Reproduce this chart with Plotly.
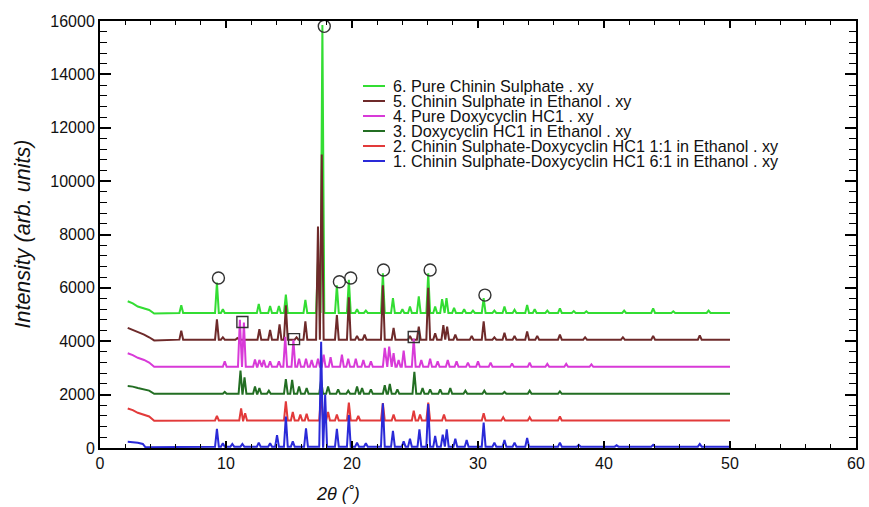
import plotly.graph_objects as go

# ---------------- data ----------------
# Series 6: Pure Chinin Sulphate (offset ~5000)
s6_start_x = [2.2, 2.6, 3.0, 3.4, 3.9, 4.3]
s6_start_y = [5500, 5420, 5300, 5230, 5170, 5040]
s6_peak_x = [6.45, 9.28, 9.75, 12.6, 13.5, 14.2, 14.75, 16.3, 17.3, 17.65, 18.8, 19.75,
             20.4, 21.1, 22.45, 23.25, 24.0, 24.6, 25.3, 26.05, 26.6, 27.15, 27.5, 28.1,
             28.9, 29.6, 30.45, 31.3, 32.1, 32.9, 33.9, 34.5, 35.5, 36.5, 37.6, 38.6,
             41.6, 43.9, 45.5, 48.3]
s6_peak_y = [5350, 6200, 5200, 5400, 5320, 5320, 5750, 5550, 7000, 15850, 6100, 6300,
             5200, 5150, 6550, 5620, 5200, 5300, 5680, 6550, 5300, 5580, 5620, 5250,
             5200, 5150, 5620, 5150, 5300, 5180, 5360, 5200, 5150, 5230, 5130, 5120,
             5150, 5230, 5120, 5150]
s6_base = 5060

# Series 5: Chinin Sulphate in Ethanol (offset ~4000)
s5_start_x = [2.2, 2.6, 3.0, 3.5, 3.9, 4.3]
s5_start_y = [4500, 4430, 4350, 4250, 4150, 4030]
s5_peak_x = [6.45, 9.28, 9.75, 10.9, 12.65, 13.5, 14.25, 14.75, 15.6, 16.3, 17.3, 17.6,
             18.8, 19.75, 20.4, 21.0, 22.45, 23.3, 24.6, 25.3, 26.05, 26.6, 27.25, 27.55,
             28.2, 29.5, 30.45, 31.3, 32.1, 32.9, 33.9, 34.7, 36.5, 38.5, 41.5, 43.9, 47.6]
s5_peak_y = [4400, 4820, 4150, 4120, 4450, 4420, 4630, 5350, 4150, 4750, 8300, 11000,
             4980, 5650, 4200, 4250, 6100, 4500, 4200, 4550, 6000, 4300, 4600, 4550,
             4250, 4200, 4750, 4150, 4320, 4200, 4370, 4200, 4250, 4150, 4150, 4200, 4220]
s5_base = 4060

# Series 4: Pure Doxycyclin HC1 (offset ~3000)
s4_start_x = [2.2, 2.6, 3.0, 3.5, 3.9, 4.3]
s4_start_y = [3550, 3480, 3380, 3300, 3200, 3040]
s4_peak_x = [9.9, 11.1, 11.42, 12.3, 12.65, 13.0, 13.5, 14.2, 14.7, 15.35, 15.8, 16.35,
             16.8, 17.3, 17.75, 18.3, 19.2, 19.7, 20.3, 20.9, 21.5, 22.6, 22.95, 23.3,
             23.7, 24.1, 24.9, 25.5, 26.2, 26.8, 27.6, 28.3, 29.2, 30.0, 31.0, 32.7,
             34.1, 35.5, 37.0, 39.0]
s4_peak_y = [3250, 4800, 4700, 3320, 3300, 3300, 3250, 3250, 4170, 4050, 3350, 3350,
             3300, 3350, 3500, 3400, 3500, 3350, 3350, 3300, 3250, 3750, 3800, 3550,
             3300, 3650, 4100, 3300, 3350, 3250, 3300, 3250, 3200, 3250, 3200, 3170,
             3200, 3150, 3150, 3130]
s4_base = 3040

# Series 3: Doxycyclin HC1 in Ethanol (offset ~2000)
s3_start_x = [2.2, 2.6, 3.0, 3.5, 3.9, 4.3]
s3_start_y = [2320, 2300, 2250, 2200, 2150, 2030]
s3_peak_x = [9.9, 11.15, 11.47, 12.3, 12.65, 13.4, 14.75, 15.25, 15.8, 16.4, 17.55, 18.1,
             18.9, 19.7, 20.4, 20.8, 21.5, 22.6, 23.0, 23.6, 24.95, 25.6, 26.2, 27.0,
             27.8, 29.0, 30.5, 32.1, 34.1, 36.5]
s3_peak_y = [2100, 2900, 2650, 2300, 2250, 2150, 2580, 2550, 2300, 2250, 2550, 2300,
             2200, 2150, 2300, 2250, 2200, 2350, 2400, 2200, 2850, 2250, 2200, 2200,
             2250, 2150, 2150, 2100, 2150, 2120]
s3_base = 2030

# Series 2: Chinin Sulphate-Doxycyclin HC1 1:1 in Ethanol (offset ~1000)
s2_start_x = [2.2, 2.6, 3.0, 3.5, 3.9, 4.3]
s2_start_y = [1480, 1420, 1320, 1250, 1180, 1020]
s2_peak_x = [9.28, 11.2, 11.52, 14.75, 15.3, 15.9, 16.4, 17.55, 18.1, 18.8, 19.75, 20.5,
             22.45, 23.3, 24.9, 25.4, 26.05, 27.3, 30.45, 32.0, 34.1, 36.5]
s2_peak_y = [1200, 1480, 1300, 1750, 1350, 1250, 1280, 2050, 1350, 1250, 1700, 1200,
             1680, 1250, 1400, 1250, 1700, 1250, 1300, 1150, 1150, 1180]
s2_base = 1030

# Series 1: Chinin Sulphate-Doxycyclin HC1 6:1 in Ethanol (offset ~0)
s1_start_x = [2.2, 3.0, 3.4, 3.6]
s1_start_y = [230, 200, 150, 30]
s1_peak_x = [9.28, 9.75, 10.5, 11.3, 12.6, 13.5, 14.05, 14.75, 15.3, 16.35, 17.55, 17.87,
             18.8, 19.75, 20.4, 21.1, 22.45, 23.25, 24.1, 24.6, 25.35, 26.05, 26.6, 27.2,
             27.52, 28.2, 29.1, 30.45, 31.3, 32.1, 32.9, 33.9, 36.5, 38.0, 41.0, 43.9, 47.6]
s1_peak_y = [720, 180, 150, 150, 200, 180, 480, 1180, 250, 740, 3980, 2000,
             720, 1230, 200, 180, 1680, 640, 250, 350, 700, 1650, 450, 500,
             700, 350, 300, 950, 200, 300, 200, 380, 200, 120, 100, 120, 150]
s1_base = 50

end_x = 50.0

labels = [
    "1. Chinin Sulphate-Doxycyclin HC1 6:1 in Ethanol . xy",
    "2. Chinin Sulphate-Doxycyclin HC1 1:1 in Ethanol . xy",
    "3. Doxycyclin HC1 in Ethanol . xy",
    "4. Pure Doxycyclin HC1 . xy",
    "5. Chinin Sulphate in Ethanol . xy",
    "6. Pure Chinin Sulphate . xy",
]
colors = ["#2a2ad8", "#e23a3a", "#236e23", "#d83ad8", "#6e2a2a", "#33dd33"]

# marked reflections
circle_x = [9.4, 17.8, 19.0, 19.9, 22.5, 26.2, 30.55]
circle_y = [6370, 15800, 6230, 6370, 6670, 6670, 5730]
square_x = [11.3, 15.4, 24.9]
square_y = [4720, 4080, 4160]

# ---------------- build figure ----------------
W = 0.15  # half width of a drawn reflection (style)


def polyline(sx, sy, px, py, base):
    xs, ys = list(sx), list(sy)
    for x, y in zip(px, py):
        xs += [x - W, x, x + W]
        ys += [base, y, base]
    xs.append(end_x)
    ys.append(base)
    return xs, ys


series = [
    (s1_start_x, s1_start_y, s1_peak_x, s1_peak_y, s1_base),
    (s2_start_x, s2_start_y, s2_peak_x, s2_peak_y, s2_base),
    (s3_start_x, s3_start_y, s3_peak_x, s3_peak_y, s3_base),
    (s4_start_x, s4_start_y, s4_peak_x, s4_peak_y, s4_base),
    (s5_start_x, s5_start_y, s5_peak_x, s5_peak_y, s5_base),
    (s6_start_x, s6_start_y, s6_peak_x, s6_peak_y, s6_base),
]

fig = go.Figure()
# draw 6 first, 1 last (blue on top)
for i in range(5, -1, -1):
    xs, ys = polyline(*series[i])
    fig.add_trace(go.Scatter(x=xs, y=ys, mode="lines", name=labels[i],
                             line=dict(color=colors[i], width=2),
                             showlegend=False, hoverinfo="skip"))

fig.add_trace(go.Scatter(x=circle_x, y=circle_y, mode="markers", showlegend=False,
                         marker=dict(symbol="circle-open", size=12, color="#333333",
                                     line=dict(color="#333333", width=1.4))))
fig.add_trace(go.Scatter(x=square_x, y=square_y, mode="markers", showlegend=False,
                         marker=dict(symbol="square-open", size=11, color="#333333",
                                     line=dict(color="#333333", width=1.4))))

FONT = "Liberation Sans, Arial, sans-serif"

# manual legend (6 at top)
shapes = []
annotations = []
row_px = [86, 101, 116, 131, 146, 161]
for k, i in enumerate(range(5, -1, -1)):
    ypix = row_px[k]
    ypaper = (448 - ypix) / 427.0
    shapes.append(dict(type="line", xref="paper", yref="paper",
                       x0=(363 - 100) / 756.0, x1=(385 - 100) / 756.0,
                       y0=ypaper, y1=ypaper,
                       line=dict(color=colors[i], width=2)))
    annotations.append(dict(xref="paper", yref="paper", x=(392 - 100) / 756.0, y=ypaper,
                            text=labels[i], showarrow=False, xanchor="left",
                            yanchor="middle", borderpad=0,
                            font=dict(family=FONT, size=16.2, color="#111")))

annotations.append(dict(xref="paper", yref="paper", x=(22 - 100) / 756.0, y=0.5,
                        text="<i>Intensity (arb. units)</i>", textangle=-90,
                        showarrow=False, xanchor="center", yanchor="middle",
                        font=dict(family=FONT, size=21.5, color="#111")))
annotations.append(dict(xref="paper", yref="paper", x=(338 - 100) / 756.0,
                        y=(448 - 494) / 427.0,
                        text="<i>2θ (˚)</i>", showarrow=False, xanchor="center",
                        yanchor="middle", font=dict(family=FONT, size=18, color="#111")))

axis_common = dict(showgrid=False, zeroline=False, showline=True, linecolor="black",
                   linewidth=2, mirror="ticks", ticks="inside", tickcolor="black",
                   automargin=False, tickformat="d",
                   tickfont=dict(family=FONT, size=16, color="#111"))

fig.update_layout(
    width=869, height=507,
    margin=dict(l=100, r=13, t=21, b=59),
    paper_bgcolor="white", plot_bgcolor="white",
    shapes=shapes, annotations=annotations,
    xaxis=dict(range=[0, 60], dtick=10, tick0=0, ticklen=7, tickwidth=1.5,
               minor=dict(dtick=2, ticklen=4, ticks="inside", tickcolor="black", tickwidth=1),
               **axis_common),
    yaxis=dict(range=[0, 16000], dtick=2000, tick0=0, ticklen=11, tickwidth=1.5,
               minor=dict(dtick=400, ticklen=7, ticks="inside", tickcolor="black", tickwidth=1),
               **axis_common),
)

fig.write_html("out.html")
